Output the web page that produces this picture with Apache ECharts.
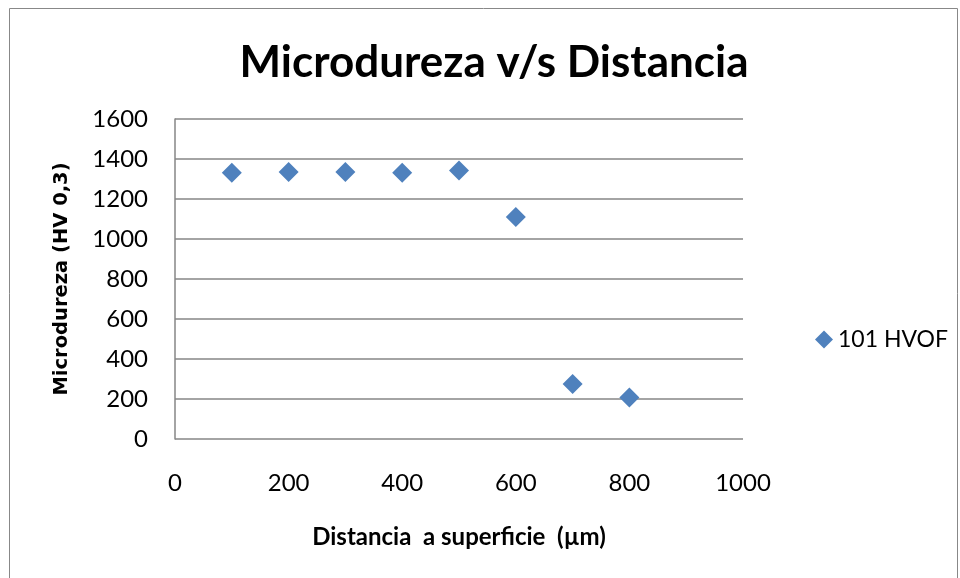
<!DOCTYPE html>
<html>
<head>
	<meta charset="UTF-8">
	<title>Microdureza v/s Distancia</title>
	<script src="https://cdn.jsdelivr.net/npm/echarts@6/dist/echarts.min.js"></script>
	<style>
		html, body { margin: 0; padding: 0; background: #fff; }
		#chart { width: 960px; height: 578px; }
	</style>
</head>
<body>
	<div id="chart"></div>
	<script>
		// datos
		var distancia = [100, 200, 300, 400, 500, 600, 700, 800];
		var microdureza = [1331, 1335, 1335, 1331, 1343, 1110, 275, 207];
		var serieNombre = '101 HVOF';

		var puntos = distancia.map(function (d, i) { return [d, microdureza[i]]; });
		var fuente = 'Lato, Carlito, sans-serif';

		var chart = echarts.init(document.getElementById('chart'), null, { renderer: 'canvas' });
		chart.setOption({
			backgroundColor: '#fff',
			animation: false,
			textStyle: { fontFamily: fuente },
			graphic: [{
				type: 'rect',
				shape: { x: 9.5, y: 8.5, width: 948, height: 600 },
				style: { fill: 'none', stroke: '#888', lineWidth: 1 },
				silent: true
			}],
			title: {
				text: 'Microdureza v/s Distancia',
				left: 489, top: 36, textAlign: 'center',
				textStyle: { fontFamily: fuente, fontSize: 44, fontWeight: 'bold', color: '#000' }
			},
			legend: {
				data: [serieNombre],
				left: 810, top: 323, orient: 'vertical',
				itemWidth: 18, itemHeight: 18, itemGap: 8,
				textStyle: { fontFamily: fuente, fontSize: 23, color: '#000' }
			},
			grid: { left: 175, right: 217, top: 119, bottom: 139, containLabel: false },
			xAxis: {
				type: 'value', min: 0, max: 1000, interval: 200,
				name: 'Distancia  a superficie  (µm)',
				nameLocation: 'middle', nameGap: 86,
				nameTextStyle: { fontFamily: fuente, fontSize: 24, fontWeight: 'bold', color: '#000' },
				axisLine: { show: false },
				axisTick: { show: false },
				splitLine: { show: false },
				axisLabel: { margin: 32, fontSize: 24, color: '#000', fontFamily: fuente, formatter: function (v) { return String(v); } }
			},
			yAxis: {
				type: 'value', min: 0, max: 1600, interval: 200,
				name: 'Microdureza (HV 0,3)',
				nameLocation: 'middle', nameGap: 103, nameRotate: 90,
				nameTextStyle: { fontFamily: 'DejaVu Sans, sans-serif', fontSize: 19.5, fontWeight: 'bold', color: '#000' },
				axisLine: { show: true, lineStyle: { color: '#868686', width: 1.5 } },
				axisTick: { show: false },
				splitLine: { show: true, lineStyle: { color: '#868686', width: 1.5 } },
				axisLabel: { margin: 27, fontSize: 24, color: '#000', fontFamily: fuente, formatter: function (v) { return String(v); } }
			},
			series: [{
				name: serieNombre,
				type: 'scatter',
				symbol: 'diamond',
				symbolSize: 20,
				itemStyle: { color: '#4F81BD', opacity: 1 },
				data: puntos
			}]
		});
	</script>
</body>
</html>
